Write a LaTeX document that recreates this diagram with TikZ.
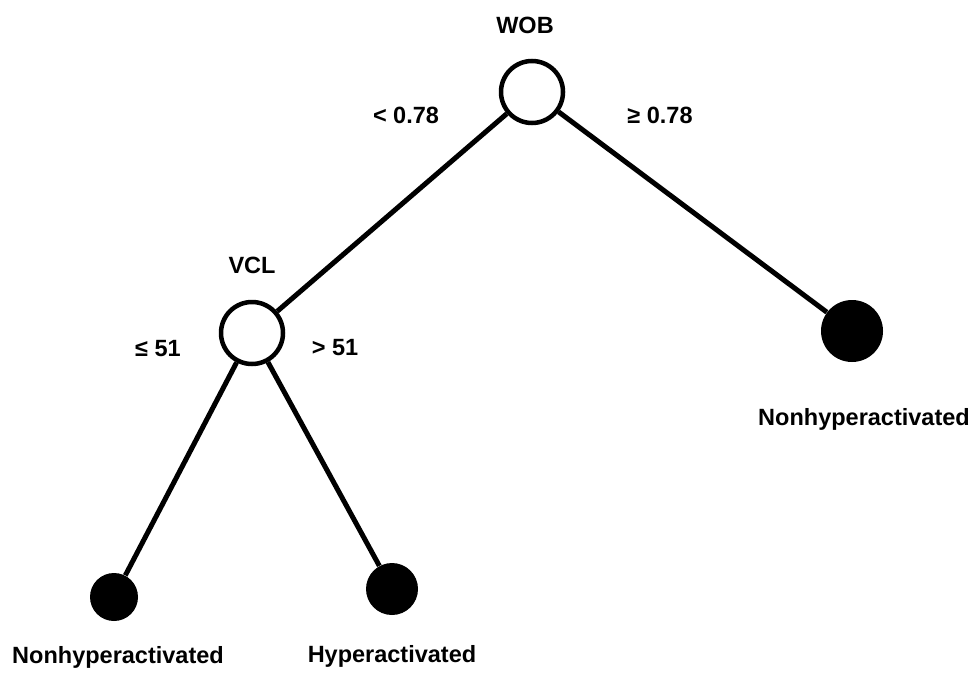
\documentclass[tikz,border=0pt]{standalone}
\usepackage{fontspec}
\setmainfont{Liberation Sans}
\usetikzlibrary{positioning}
\newcommand{\myLabelFont}{\bfseries\fontsize{23.5}{27}\selectfont}

\begin{document}
\begin{tikzpicture}[x=1pt,y=-1pt,thick,
	Edge/.style={-,black,line width=5pt},
	Split/.style={circle,fill=white,draw=black,line width=4.5pt,inner sep=0pt,minimum size=62pt},
	Leaf/.style={circle,fill=black,draw=none,inner sep=0pt},
	Lab/.style={inner sep=0pt,font=\myLabelFont},
]
	\useasboundingbox (0,0) rectangle (973,674);

	\node[Split] (WOB) at (532,92){};
	\node[Split] (VCL) at (252,333){};
	\node[Leaf, minimum size=48pt] (N1) at (114,597){};
	\node[Leaf, minimum size=52pt] (H) at (392,589){};
	\node[Leaf, minimum size=62pt] (N2) at (852,331){};

	\node[Lab] (WOBt)[above of= WOB, node distance=67pt, xshift=-7pt]{WOB};
	\node[Lab] (VCLt)[above of= VCL, node distance=68pt]{VCL};
	\node[Lab] (lt)[left of= WOB, node distance=126pt, yshift=-23pt]{< 0.78};
	\node[Lab] (ge)[right of= WOB, node distance=128pt, yshift=-23pt]{≥ 0.78};
	\node[Lab] (le)[left of= VCL, node distance=94pt, yshift=-16pt]{≤ 51};
	\node[Lab] (gt)[right of= VCL, node distance=83pt, yshift=-15pt]{> 51};
	\node[Lab] (N1t)[below of= N1, node distance=60pt, xshift=4pt]{Nonhyperactivated};
	\node[Lab] (Ht)[below of= H, node distance=67pt]{Hyperactivated};
	\node[Lab] (N2t)[below of= N2, node distance=88pt, xshift=12pt]{Nonhyperactivated};

	\path[Edge]
	(WOB) edge (VCL)
	(WOB) edge (N2)
	(VCL) edge (N1)
	(VCL) edge (H)
	;
\end{tikzpicture}
\end{document}
